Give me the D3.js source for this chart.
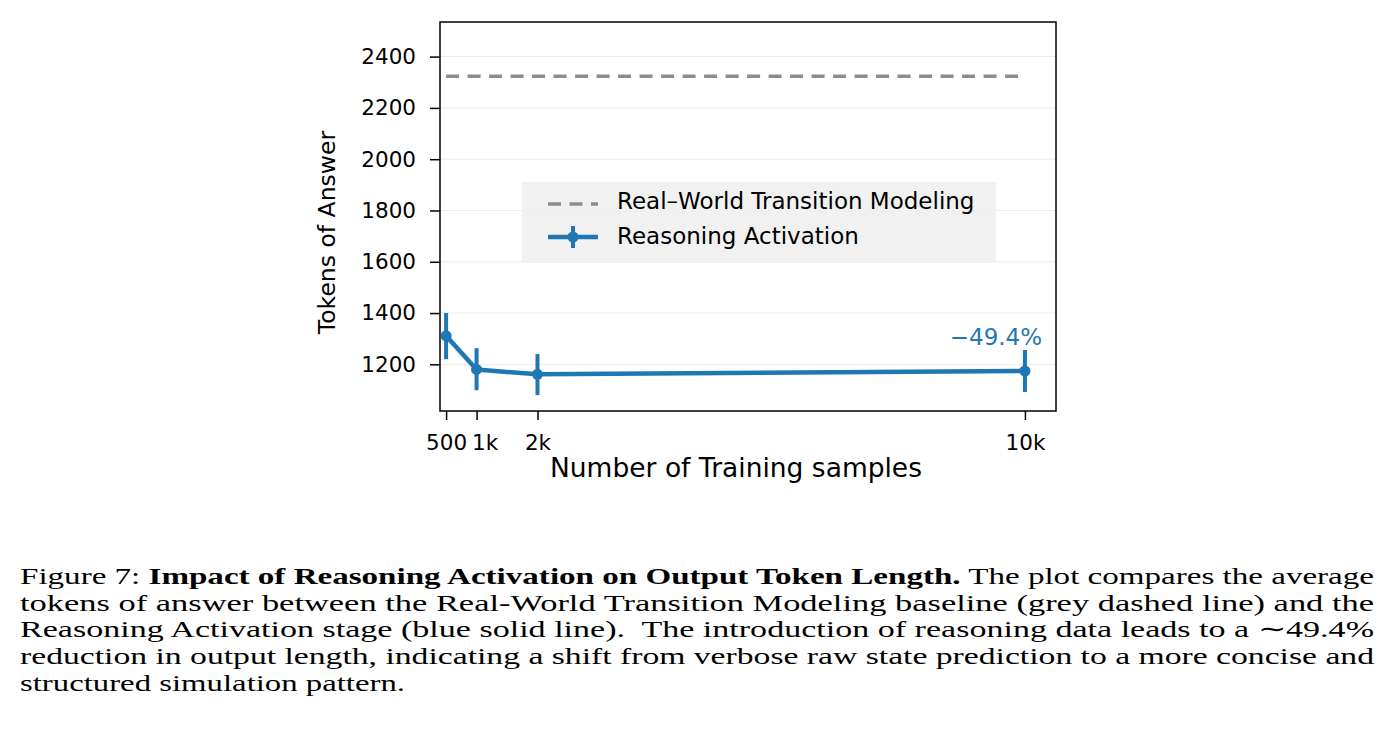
<!DOCTYPE html>
<html>
<head>
<meta charset="utf-8">
<script src="https://cdn.jsdelivr.net/npm/d3@7"></script>
<style>
  html, body { margin: 0; padding: 0; background: #fff; }
  svg { display: block; }
</style>
</head>
<body>
<div id="chart"></div>
<script>
// values
const samples = [500, 1000, 2000, 10000];
const sampleLabels = ['500', '1k', '2k', '10k'];
const reasoningMean = [1311, 1180, 1161, 1174];
const reasoningLow = [1220, 1099, 1080, 1092];
const reasoningHigh = [1400, 1263, 1240, 1256];
const baselineTokens = 2323;
const yTicks = [1200, 1400, 1600, 1800, 2000, 2200, 2400];
const seriesNames = ['Real\u2013World Transition Modeling', 'Reasoning Activation'];
const annotation = '\u221249.4%';

const captionLines = [
    [{ t: 'Figure 7: ' }, { t: 'Impact of Reasoning Activation on Output Token Length.', b: true }, { t: ' The plot compares the average' }],
    [{ t: 'tokens of answer between the Real-World Transition Modeling baseline (grey dashed line) and the' }],
    [{ t: 'Reasoning Activation stage (blue solid line).\u00a0 The introduction of reasoning data leads to a \u223c49.4%' }],
    [{ t: 'reduction in output length, indicating a shift from verbose raw state prediction to a more concise and' }],
    [{ t: 'structured simulation pattern.' }]
];
const captionWidths = [1354, 1354, 1354, 1354, 385];

const width = 1394, height = 738;
const plot = { left: 440, right: 1056, top: 22, bottom: 411 };
const blue = '#1f77b4', grey = '#8c8c8c';
const sans = 'DejaVu Sans, sans-serif';

const svg = d3.select('#chart').append('svg')
    .attr('width', width)
    .attr('height', height);

svg.append('rect').attr('width', width).attr('height', height).attr('fill', '#fff');

const x = d3.scaleLinear().domain([400, 10510]).range([plot.left, plot.right]);
const y = d3.scaleLinear().domain([1018, 2535]).range([plot.bottom, plot.top]);

// grid
svg.append('g')
    .selectAll('line')
    .data(yTicks)
    .join('line')
    .attr('x1', plot.left).attr('x2', plot.right)
    .attr('y1', d => y(d)).attr('y2', d => y(d))
    .attr('stroke', '#ebebeb')
    .attr('stroke-width', 1);

// axes
const yAxis = d3.axisLeft(y).tickValues(yTicks)
    .tickFormat(d3.format('d'))
    .tickSize(10).tickPadding(14);
const gy = svg.append('g')
    .attr('transform', `translate(${plot.left},0)`)
    .call(yAxis);
gy.select('.domain').remove();

const xAxis = d3.axisBottom(x).tickValues(samples)
    .tickFormat((d, i) => sampleLabels[i])
    .tickSize(9).tickPadding(15);
const gx = svg.append('g')
    .attr('transform', `translate(0,${plot.bottom})`)
    .call(xAxis);
gx.select('.domain').remove();
// "1k" sits a bit to the right of its tick in the figure so it clears "500"
gx.selectAll('.tick text').attr('dx', (d, i) => i === 1 ? 8 : 0);

svg.selectAll('.tick line').attr('stroke', '#000').attr('stroke-width', 1.5);
svg.selectAll('.tick text')
    .attr('font-family', sans)
    .attr('font-size', 21.5)
    .attr('fill', '#000');

// frame
svg.append('rect')
    .attr('x', plot.left).attr('y', plot.top)
    .attr('width', plot.right - plot.left)
    .attr('height', plot.bottom - plot.top)
    .attr('fill', 'none')
    .attr('stroke', '#000')
    .attr('stroke-width', 1.5);

// baseline (dashed)
svg.append('line')
    .attr('x1', x(samples[0])).attr('x2', x(samples[samples.length - 1]))
    .attr('y1', y(baselineTokens)).attr('y2', y(baselineTokens))
    .attr('stroke', grey)
    .attr('stroke-width', 3.5)
    .attr('stroke-dasharray', '13 8.5');

// reasoning activation line
const pts = samples.map((s, i) => ({ s, m: reasoningMean[i], lo: reasoningLow[i], hi: reasoningHigh[i] }));

svg.append('g')
    .selectAll('line')
    .data(pts)
    .join('line')
    .attr('x1', d => x(d.s)).attr('x2', d => x(d.s))
    .attr('y1', d => y(d.lo)).attr('y2', d => y(d.hi))
    .attr('stroke', blue)
    .attr('stroke-width', 4);

svg.append('path')
    .datum(pts)
    .attr('fill', 'none')
    .attr('stroke', blue)
    .attr('stroke-width', 4.5)
    .attr('stroke-linejoin', 'round')
    .attr('d', d3.line().x(d => x(d.s)).y(d => y(d.m)));

svg.append('g')
    .selectAll('circle')
    .data(pts)
    .join('circle')
    .attr('cx', d => x(d.s)).attr('cy', d => y(d.m))
    .attr('r', 5.5)
    .attr('fill', blue);

const last = pts[pts.length - 1];
svg.append('text')
    .attr('x', x(last.s) - 29)
    .attr('y', y(last.hi) - 5)
    .attr('text-anchor', 'middle')
    .attr('font-family', sans)
    .attr('font-size', 23)
    .attr('fill', blue)
    .text(annotation);

// legend
const legend = svg.append('g');
legend.append('rect')
    .attr('x', 522).attr('y', 182)
    .attr('width', 474).attr('height', 81)
    .attr('fill', '#f0f0f0')
    .attr('fill-opacity', 0.92);

legend.append('line')
    .attr('x1', 548).attr('x2', 598)
    .attr('y1', 204).attr('y2', 204)
    .attr('stroke', grey)
    .attr('stroke-width', 3.5)
    .attr('stroke-dasharray', '13 8.5');

legend.append('line')
    .attr('x1', 548).attr('x2', 598)
    .attr('y1', 237).attr('y2', 237)
    .attr('stroke', blue)
    .attr('stroke-width', 4.5);
legend.append('line')
    .attr('x1', 573).attr('x2', 573)
    .attr('y1', 226).attr('y2', 248)
    .attr('stroke', blue)
    .attr('stroke-width', 4);
legend.append('circle')
    .attr('cx', 573).attr('cy', 237).attr('r', 5.5)
    .attr('fill', blue);

legend.selectAll('text.lbl')
    .data(seriesNames)
    .join('text')
    .attr('class', 'lbl')
    .attr('x', 617)
    .attr('y', (d, i) => 209 + i * 35)
    .attr('font-family', sans)
    .attr('font-size', 23)
    .attr('fill', '#000')
    .text(d => d);

// axis titles
svg.append('text')
    .attr('transform', `translate(335,${(plot.top + plot.bottom) / 2 + 16}) rotate(-90)`)
    .attr('text-anchor', 'middle')
    .attr('font-family', sans)
    .attr('font-size', 23.5)
    .attr('fill', '#000')
    .text('Tokens of Answer');

svg.append('text')
    .attr('x', 736)
    .attr('y', 477)
    .attr('text-anchor', 'middle')
    .attr('font-family', sans)
    .attr('font-size', 26.5)
    .attr('fill', '#000')
    .text('Number of Training samples');

// caption: the paper's serif is wider than Liberation Serif, so stretch each line to its width
const cap = svg.append('g')
    .attr('font-family', 'Liberation Serif, serif')
    .attr('font-size', 24)
    .attr('fill', '#000');

captionLines.forEach((line, i) => {
    const t = cap.append('text')
        .attr('x', 20)
        .attr('y', 584 + i * 26.7)
        .attr('xml:space', 'preserve')
        .attr('textLength', captionWidths[i])
        .attr('lengthAdjust', 'spacingAndGlyphs');
    line.forEach(seg => {
        t.append('tspan')
            .attr('font-weight', seg.b ? 'bold' : null)
            .text(seg.t);
    });
});
</script>
</body>
</html>
